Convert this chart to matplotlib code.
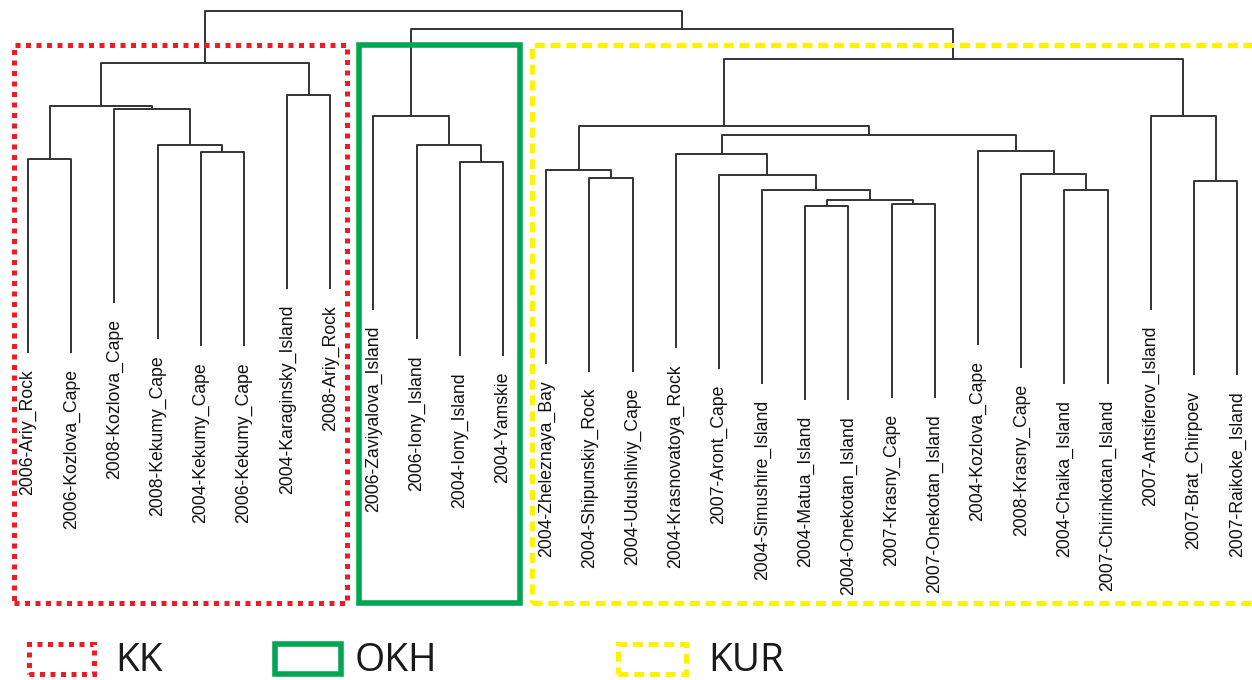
import matplotlib
matplotlib.use("Agg")
import matplotlib.pyplot as plt
from matplotlib.patches import Rectangle

# leaves in plotting order (left to right)
labels = [
    "2006-Ariy_Rock", "2006-Kozlova_Cape", "2008-Kozlova_Cape", "2008-Kekumy_Cape",
    "2004-Kekumy_Cape", "2006-Kekumy_Cape", "2004-Karaginsky_Island", "2008-Ariy_Rock",
    "2006-Zaviyalova_Island", "2006-Iony_Island", "2004-Iony_Island", "2004-Yamskie",
    "2004-Zheleznaya_Bay", "2004-Shipunskiy_Rock", "2004-Udushliviy_Cape",
    "2004-Krasnovatoya_Rock", "2007-Aront_Cape", "2004-Simushire_Island",
    "2004-Matua_Island", "2004-Onekotan_Island", "2007-Krasny_Cape",
    "2007-Onekotan_Island", "2004-Kozlova_Cape", "2008-Krasny_Cape",
    "2004-Chaika_Island", "2007-Chirinkotan_Island", "2007-Antsiferov_Island",
    "2007-Brat_Chirpoev", "2007-Raikoke_Island",
]

# linkage rows: child 1, child 2, height  (index < 29 -> leaf, else cluster 29+k)
link_a = [0, 4, 3, 2, 29, 6, 33, 10, 9, 8, 13, 12, 18, 20, 41, 17, 16, 15,
          24, 23, 22, 46, 40, 27, 26, 51, 38, 35]
link_b = [1, 5, 30, 31, 32, 7, 34, 11, 36, 37, 14, 39, 19, 21, 42, 43, 44, 45,
          25, 47, 48, 49, 50, 28, 52, 53, 54, 55]
heights = [2.41, 2.48, 2.55, 2.91, 2.94, 3.05, 3.37, 2.38, 2.55, 2.84, 2.22, 2.30,
           1.94, 1.96, 2.00, 2.10, 2.25, 2.46, 2.10, 2.26, 2.49, 2.65, 2.74, 2.19,
           2.84, 3.41, 3.71, 3.89]

# population groups (first leaf, last leaf)
groups = ["KK", "OKH", "KUR"]
group_first = [0, 8, 12]
group_last = [7, 11, 28]

hang = 1.94       # like hclust's hang: leaf ends this far below its parent merge
label_gap = 0.16

n = len(labels)
node_x = {i: float(i) for i in range(n)}
node_h = {}
leaf_bottom = {}

fig = plt.figure(figsize=(12.52, 6.8), dpi=100)
ax = fig.add_axes([0, 0, 1, 1])
ax.set_xlim(-0.648, 28.345)
ax.set_ylim(-2.8, 4.0)
ax.axis("off")

line_kw = dict(color="#333333", lw=1.4, solid_capstyle="butt", zorder=2)

for k, (a, b, h) in enumerate(zip(link_a, link_b, heights)):
    idx = n + k
    ends = []
    for c in (a, b):
        if c < n:
            y0 = h - hang
            leaf_bottom[c] = y0
        else:
            y0 = node_h[c]
        ends.append(y0)
    xa, xb = node_x[a], node_x[b]
    ax.plot([xa, xa, xb, xb], [ends[0], h, h, ends[1]], **line_kw)
    node_x[idx] = (xa + xb) / 2
    node_h[idx] = h

for i, name in enumerate(labels):
    ax.text(i, leaf_bottom[i] - label_gap, name, rotation=90, ha="center", va="top",
            fontsize=12.7, family=["Liberation Sans", "DejaVu Sans"], color="#111111")

# group boxes
red = "#ED1C24"
green = "#00A651"
yellow = "#FFF200"
box_top, box_bottom = 3.55, -2.03
styles = [
    dict(edgecolor=red, lw=3.6, linestyle=(0, (1.0, 1.1))),
    dict(edgecolor=green, lw=4.0, linestyle="-"),
    dict(edgecolor=yellow, lw=3.6, linestyle=(0, (2.0, 1.15))),
]
for g, (first, last, st) in enumerate(zip(group_first, group_last, styles)):
    x0 = first - 0.33
    x1 = last + (1.0 if g == 2 else 0.39)
    ax.add_patch(Rectangle((x0, box_bottom), x1 - x0, box_top - box_bottom,
                           facecolor="none", zorder=3, capstyle="butt",
                           joinstyle="miter", **st))

# legend along the bottom edge (figure pixels -> fractions)
W, H = 1252, 680
legend_boxes = [(29, 94), (275, 341), (618, 686)]
legend_text_x = [115, 355, 708]
for name, (px0, px1), tx, st in zip(groups, legend_boxes, legend_text_x, styles):
    fig.patches.append(Rectangle((px0 / W, 1 - 674 / H), (px1 - px0) / W, 30 / H,
                                 transform=fig.transFigure, facecolor="none",
                                 capstyle="butt", joinstyle="miter", **st))
    fig.text(tx / W, 1 - 671 / H, name, ha="left", va="baseline", fontsize=28,
             family=["Open Sans", "DejaVu Sans"], color="#1a1a1a")

fig.savefig("out.png", dpi=100, facecolor="white")
